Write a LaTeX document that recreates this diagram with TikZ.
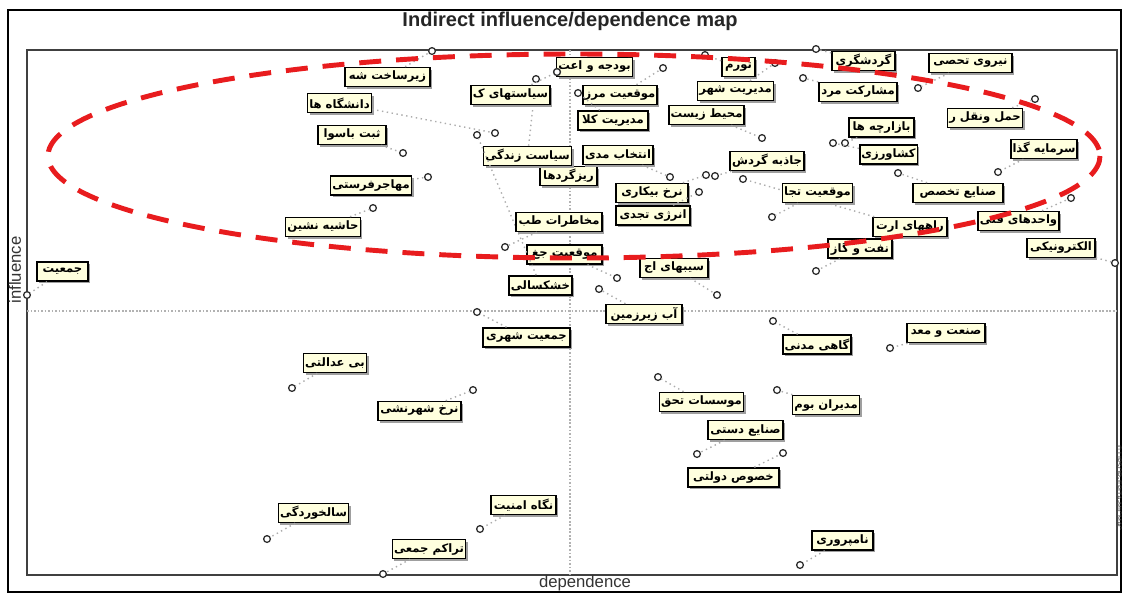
\documentclass[tikz,border=0pt]{standalone}
\usepackage{fontspec}
\setmainfont{Liberation Sans}
\newfontfamily\arfont[Script=Arabic]{DejaVu Sans}
\TeXXeTstate=1
\usetikzlibrary{shadows}
\definecolor{cream}{RGB}{255,255,222}
\definecolor{ellred}{RGB}{232,28,30}
\tikzset{
 lab/.style={draw=black, line width=0.9pt, fill=cream, minimum height=0.38cm, inner sep=1pt,
   font=\arfont\bfseries\fontsize{6.6}{7}\selectfont,
   drop shadow={shadow xshift=1.2pt, shadow yshift=-1.2pt, fill=gray!75, opacity=1}},
 pt/.style={circle, draw=gray!40!black, line width=0.75pt, fill=white, inner sep=0pt, minimum size=0.135cm},
 con/.style={draw=gray!65, line width=0.8pt, dotted},
 axisline/.style={draw=gray!60, line width=0.6pt, dash pattern=on 1pt off 1pt},
}
\newcommand\mlab[7]{%
 \node[lab, minimum width={#4*0.02cm}] (#1) at (#2,#3) {#5};
 \node[pt] (#1p) at (#6,#7) {};
 \draw[con] (#1) -- (#1p);
}
\begin{document}
\begin{tikzpicture}[x=0.02cm,y=-0.02cm]
\useasboundingbox (0,0) rectangle (1122,593);
\draw[line width=1.2pt] (8,10) rectangle (1121,592);
\node[font=\bfseries\fontsize{11.4}{12}\selectfont, text=black!85] (title) at (570,21) {Indirect influence/dependence map};
\draw[draw=gray!50!black, line width=1pt] (27,50) rectangle (1117,575);
\coordinate (hl) at (27,311); \coordinate (hr) at (1117,311);
\coordinate (vt) at (570,50); \coordinate (vb) at (570,575);
\draw[axisline] (hl) -- (hr);
\draw[axisline] (vt) -- (vb);
\node[font=\fontsize{9.5}{10}\selectfont, text=black!80] (dep) at (585,583) {dependence};
\node[rotate=90, font=\fontsize{9.5}{10}\selectfont, text=black!80] (inf) at (15,270) {influence};
\node[rotate=-90, font=\fontsize{4}{5}\selectfont, text=black!70] (wm) at (1119,488) {© LIPSOR-EPITA-MICMAC};

\mlab{a1}{62.5}{271.5}{51}{\beginR جمعیت\endR}{27}{295}
\mlab{a2}{387.5}{77}{85}{\beginR زیرساخت شه\endR}{432}{51}
\mlab{a3}{339.5}{103}{53}{\beginR دانشگاه ها\endR}{495}{133}
\mlab{a4}{352}{135}{68}{\beginR ثبت باسوا\endR}{403}{153}
\mlab{a5}{371}{185.5}{78}{\beginR مهاجرفرستی\endR}{428}{177}
\mlab{a6}{323}{227}{70}{\beginR حاشیه نشین\endR}{373}{208}
\mlab{a13}{568.5}{176}{57}{\beginR ریزگردها\endR}{535}{160}
\mlab{a11}{527.5}{156}{79}{\beginR سیاست زندگی\endR}{536}{79}
\mlab{a7}{594.5}{67}{75}{\beginR بودجه و اعت\endR}{557}{72}
\mlab{a8}{510.5}{95}{75}{\beginR سیاستهای ک\endR}{557}{72}
\mlab{a9}{620}{95}{74}{\beginR موقعیت مرز\endR}{663}{68}
\mlab{a10}{613}{120.5}{70}{\beginR مدیریت کلا\endR}{578}{93}
\mlab{a12}{618}{155}{70}{\beginR انتخاب مدی\endR}{670}{177}
\mlab{a14}{652}{193}{72}{\beginR نرخ بیکاری\endR}{706}{175}
\mlab{a15}{653}{215.5}{74}{\beginR انرژی تجدی\endR}{699}{192}
\mlab{a16}{767}{161}{74}{\beginR جاذبه گردش\endR}{715}{176}
\mlab{a17}{706.5}{115}{73}{\beginR محیط زیست\endR}{762}{138}
\mlab{a18}{735.5}{91}{75}{\beginR مدیریت شهر\endR}{775}{63}
\mlab{a19}{738.5}{67}{33}{\beginR تورم\endR}{705}{55}
\mlab{a20}{863.5}{61}{63}{\beginR گردشگری\endR}{816}{49}
\mlab{a21}{858}{92}{78}{\beginR مشارکت مرد\endR}{803}{78}
\mlab{a22}{970.5}{63}{83}{\beginR نیروی تحصی\endR}{918}{88}
\mlab{a23}{985}{118}{70}{\beginR حمل ونقل ر\endR}{1035}{99}
\mlab{a24}{881.5}{127.5}{65}{\beginR بازارچه ها\endR}{845}{143}
\mlab{a25}{888.5}{154.5}{57}{\beginR کشاورزی\endR}{833}{143}
\mlab{a26}{1044}{149}{62}{\beginR سرمایه گذا\endR}{998}{172}
\mlab{a27}{958}{193}{90}{\beginR صنایع تخصص\endR}{898}{173}
\mlab{a29}{910}{227}{74}{\beginR راههای ارت\endR}{743}{179}
\mlab{a28}{817.5}{193}{69}{\beginR موقعیت تجا\endR}{772}{217}
\mlab{a30}{1018.5}{221}{81}{\beginR واحدهای فنی\endR}{1071}{198}
\mlab{a31}{860}{248.5}{64}{\beginR نفت و گاز\endR}{816}{271}
\mlab{a32}{1061}{248}{68}{\beginR الکترونیکی\endR}{1115}{263}
\mlab{a33}{946}{333}{78}{\beginR صنعت و معد\endR}{890}{348}
\mlab{a34}{817}{344.5}{68}{\beginR گاهی مدنی\endR}{773}{321}
\mlab{a35}{826}{405}{66}{\beginR مدیران بوم\endR}{777}{390}
\mlab{a36}{701.5}{402}{81}{\beginR موسسات تحق\endR}{658}{377}
\mlab{a37}{745.5}{430}{75}{\beginR صنایع دستی\endR}{697}{454}
\mlab{a38}{733.5}{477.5}{91}{\beginR خصوص دولتی\endR}{783}{453}
\mlab{a39}{842.5}{540.5}{61}{\beginR نامپروری\endR}{800}{565}
\mlab{a40}{674}{268}{68}{\beginR سیبهای اج\endR}{717}{295}
\mlab{a41}{564.5}{254.5}{75}{\beginR موقعیت جغ\endR}{617}{278}
\mlab{a43}{540.5}{285.5}{59}{\beginR خشکسالی\endR}{477}{135}
\mlab{a42}{559}{222}{86}{\beginR مخاطرات طب\endR}{505}{247}
\mlab{a44}{644}{314}{76}{\beginR آب زیرزمین\endR}{599}{289}
\mlab{a45}{526.5}{337.5}{87}{\beginR جمعیت شهری\endR}{477}{312}
\mlab{a46}{335}{363}{62}{\beginR بی عدالتی\endR}{292}{388}
\mlab{a47}{419.5}{411}{83}{\beginR نرخ شهرنشی\endR}{473}{390}
\mlab{a48}{313.5}{513}{69}{\beginR سالخوردگی\endR}{267}{539}
\mlab{a49}{523.5}{505}{65}{\beginR نگاه امنیت\endR}{480}{529}
\mlab{a50}{429}{549}{72}{\beginR تراکم جمعی\endR}{383}{574}

\draw[ellred, line width=2.8pt, dash pattern=on 12.5pt off 8.5pt] (574,156) ellipse [x radius=526, y radius=102];
\end{tikzpicture}
\end{document}
